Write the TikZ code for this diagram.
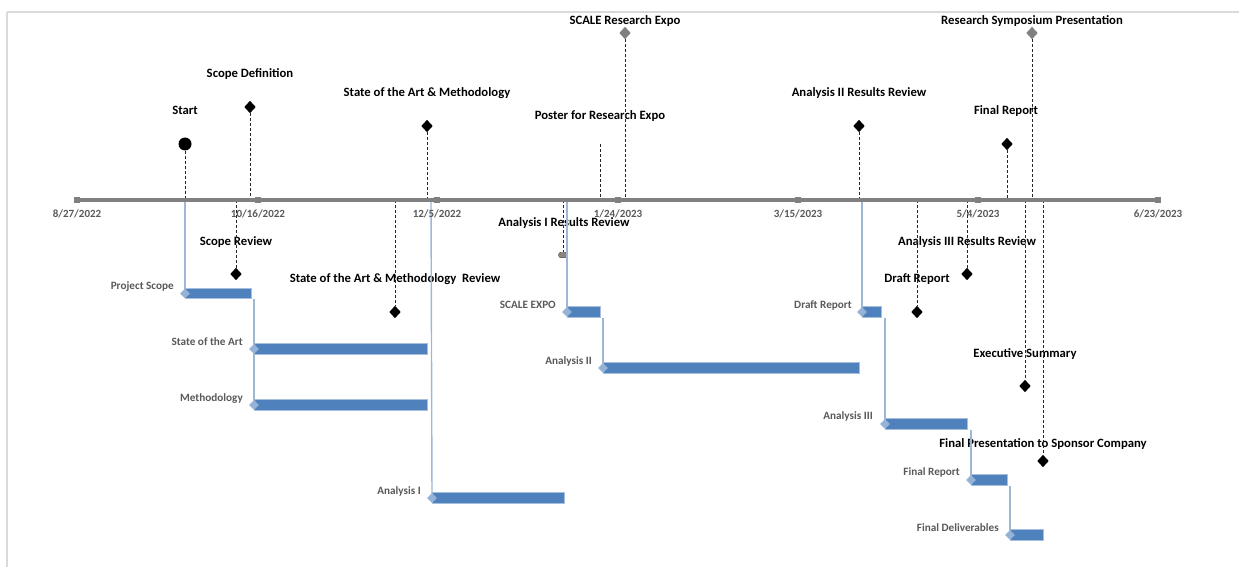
\documentclass[tikz,border=0pt]{standalone}
\usepackage{fontspec}
\setmainfont{Carlito}
\usetikzlibrary{shapes.geometric}
\definecolor{barblue}{HTML}{4F81BD}
\definecolor{baredge}{HTML}{A7BFDE}
\definecolor{notch}{HTML}{95B3D7}
\definecolor{linkblue}{HTML}{9DB7D5}
\definecolor{axisgray}{HTML}{808080}
\definecolor{txtgray}{HTML}{595959}
\definecolor{framegray}{HTML}{D9D9D9}
\definecolor{oddmark}{HTML}{8C8678}
\tikzset{
  mslabel/.style={font=\fontsize{12.7}{15}\selectfont\bfseries, text=black, inner sep=0pt, text height=8.8pt, text depth=2.6pt, yshift=-1.5pt},
  datelabel/.style={font=\fontsize{11}{13}\selectfont\bfseries, text=txtgray, inner sep=0pt, text height=7.8pt, text depth=2.2pt, yshift=-1.5pt},
  tasklabel/.style={font=\fontsize{11.2}{13}\selectfont\bfseries, text=txtgray, inner sep=0pt, anchor=east, text height=7.8pt, text depth=2.3pt},
  msdia/.style={diamond, fill=black, draw=none, minimum width=11.5pt, minimum height=12.5pt, inner sep=0pt},
  msgray/.style={msdia, fill=axisgray},
  mscirc/.style={circle, fill=black, draw=none, minimum size=13pt, inner sep=0pt},
  barbox/.style={rectangle, fill=barblue, draw=baredge, line width=0.6pt, minimum height=10.5pt, inner sep=0pt, anchor=west},
  notchdia/.style={diamond, fill=notch, draw=none, minimum size=10pt, inner sep=0pt},
  dropline/.style={draw=black!85, line width=0.9pt, dash pattern=on 3pt off 2pt},
  link/.style={draw=linkblue, line width=1.4pt},
  tick/.style={rectangle, fill=axisgray, minimum size=6pt, inner sep=0pt},
  axisline/.style={draw=axisgray, line width=3.5pt},
}
\begin{document}
\begin{tikzpicture}[x=1pt,y=-1pt]
\useasboundingbox (0,0) rectangle (1239,567);
% frame
\draw[framegray, line width=2pt] (7,12) -- (1250,12);
\draw[framegray, line width=2pt] (7,12) -- (7,580);

% axis coordinates
\foreach \n/\x in {A1/185,A2/250,A3/427,A4/600,A5/625,A6/859,A7/1007,A8/1032,
  B1/236,B2/395,B3/563,B4/917,B5/967,B6/1025,B7/1043,L1/431,L2/567,L3/862}
  \coordinate (ax\n) at (\x,200);

% milestone markers and labels above
\node[mscirc] (m1) at (185,144) {};
\node[mslabel] (l1) at (185,110) {Start};
\node[msdia] (m2) at (250,107) {};
\node[mslabel] (l2) at (250,73) {Scope Definition};
\node[msdia] (m3) at (427,126) {};
\node[mslabel] (l3) at (427,92) {State of the Art \& Methodology};
\coordinate (m4) at (600,144);
\node[mslabel] (l4) at (600,115) {Poster for Research Expo};
\node[msgray] (m5) at (625,33) {};
\node[mslabel] (l5) at (625,20) {SCALE Research Expo};
\node[msdia] (m6) at (859,126) {};
\node[mslabel] (l6) at (859,92) {Analysis II Results Review};
\node[msdia] (m7) at (1007,144) {};
\node[mslabel] (l7) at (1006,110) {Final Report};
\node[msgray] (m8) at (1032,33) {};
\node[mslabel] (l8) at (1032,20) {Research Symposium Presentation};

% milestones below
\node[msdia] (n1) at (236,274) {};
\node[mslabel] (k1) at (236,241) {Scope Review};
\node[msdia] (n2) at (395,312) {};
\node[mslabel] (k2) at (395,278) {State of the Art \& Methodology\ \ Review};
\node[fill=oddmark, draw=black!70, line width=0.4pt, rounded corners=2.5pt, minimum width=9pt, minimum height=5.5pt, inner sep=0pt] (n3) at (563,255) {};
\node[mslabel] (k3) at (564,222) {Analysis I Results Review};
\node[msdia] (n4) at (917,312) {};
\node[mslabel] (k4) at (917,278) {Draft Report};
\node[msdia] (n5) at (967,274) {};
\node[mslabel] (k5) at (967,241) {Analysis III Results Review};
\node[msdia] (n6) at (1025,386) {};
\node[mslabel] (k6) at (1025,353) {Executive Summary};
\node[msdia] (n7) at (1043,461) {};
\node[mslabel] (k7) at (1043,443) {Final Presentation to Sponsor Company};

% drop lines
\draw[dropline] (m1) -- (axA1);
\draw[dropline] (m2) -- (axA2);
\draw[dropline] (m3) -- (axA3);
\draw[dropline] (m4) -- (axA4);
\draw[dropline] (m5) -- (axA5);
\draw[dropline] (m6) -- (axA6);
\draw[dropline] (m7) -- (axA7);
\draw[dropline] (m8) -- (axA8);
\draw[dropline] (axB1) -- (n1);
\draw[dropline] (axB2) -- (n2);
\draw[dropline] (axB3) -- (n3);
\draw[dropline] (axB4) -- (n4);
\draw[dropline] (axB5) -- (n5);
\draw[dropline] (axB6) -- (n6);
\draw[dropline] (axB7) -- (n7);

% task bars
\node[barbox, minimum width=66pt] (t1) at (185,293.5) {};
\node[barbox, minimum width=173pt] (t2) at (254,349) {};
\node[barbox, minimum width=173pt] (t3) at (254,405) {};
\node[barbox, minimum width=132pt] (t4) at (432,498) {};
\node[barbox, minimum width=33pt] (t5) at (567,312) {};
\node[barbox, minimum width=256pt] (t6) at (603,368) {};
\node[barbox, minimum width=19pt] (t7) at (862,312) {};
\node[barbox, minimum width=82pt] (t8) at (885,424) {};
\node[barbox, minimum width=36pt] (t9) at (971,480) {};
\node[barbox, minimum width=33pt] (t10) at (1010,535) {};

% links
\draw[link] (axA1) -- (t1.west);
\draw[link] (t2.west |- t1.south) -- (t2.west) -- (t3.west);
\draw[link] (axL1) -- (t4.west);
\draw[link] (axL2) -- (t5.west);
\draw[link] (t6.west |- t5.south) -- (t6.west);
\draw[link] (axL3) -- (t7.west);
\draw[link] (t8.west |- t7.south) -- (t8.west);
\draw[link] (t9.west |- t8.south) -- (t9.west);
\draw[link] (t10.west |- t9.south) -- (t10.west);

% notches
\foreach \t in {t1,t2,t3,t4,t5,t6,t7,t8,t9,t10}
  \node[notchdia] (\t d) at (\t.west) {};

% task labels
\node[tasklabel] (tl1) at (174,287) {Project Scope};
\node[tasklabel] (tl2) at (243,343) {State of the Art};
\node[tasklabel] (tl3) at (243,399) {Methodology};
\node[tasklabel] (tl4) at (421,492) {Analysis I};
\node[tasklabel] (tl5) at (556,306) {SCALE EXPO};
\node[tasklabel] (tl6) at (592,362) {Analysis II};
\node[tasklabel] (tl7) at (852,306) {Draft Report};
\node[tasklabel] (tl8) at (873,417) {Analysis III};
\node[tasklabel] (tl9) at (960,473) {Final Report};
\node[tasklabel] (tl10) at (999,529) {Final Deliverables};

% axis
\coordinate (d0) at (77,200);
\coordinate (d6) at (1158,200);
\draw[axisline] (d0) -- (d6);
\foreach \i/\x/\lab in {0/77/8\slash27\slash2022,1/258/10\slash16\slash2022,2/437/12\slash5\slash2022,3/618/1\slash24\slash2023,4/798/3\slash15\slash2023,5/978/5\slash4\slash2023,6/1158/6\slash23\slash2023}{
  \node[tick] (tk\i) at (\x,200) {};
  \node[datelabel] (dl\i) at (\x,213) {\lab};
}
\end{tikzpicture}
\end{document}
